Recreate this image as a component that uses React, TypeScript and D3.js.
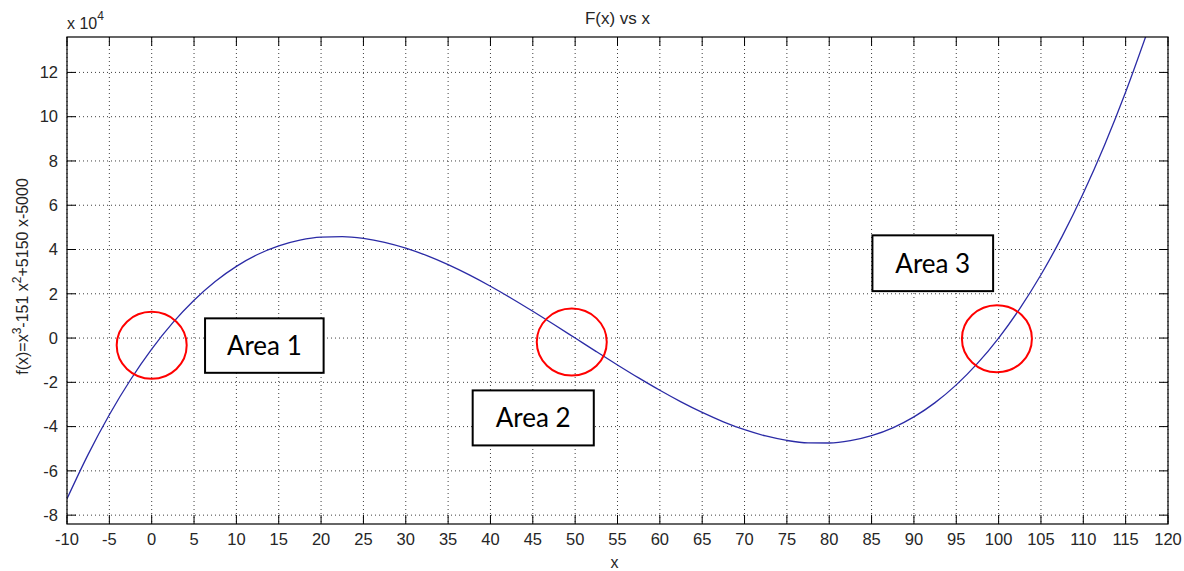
import React from "react";
import * as d3 from "d3";

const xValues = [-10, -7.5, -5, -2.5, 0, 2.5, 5, 7.5, 10, 12.5, 15, 17.5, 20, 22.5, 25, 27.5, 30, 32.5, 35, 37.5, 40, 42.5, 45, 47.5, 50, 52.5, 55, 57.5, 60, 62.5, 65, 67.5, 70, 72.5, 75, 77.5, 80, 82.5, 85, 87.5, 90, 92.5, 95, 97.5, 100, 102.5, 105, 107.5, 110, 112.5, 115, 117.5];
const fValues = [-72600, -52541, -34650, -18834, -5000, 6947, 17100, 25553, 32400, 37734, 41650, 44241, 45600, 45822, 45000, 43228, 40600, 37209, 33150, 28516, 23400, 17897, 12100, 6103, 0, -6116, -12150, -18009, -23600, -28828, -33600, -37822, -41400, -44241, -46250, -47334, -47400, -46353, -44100, -40547, -35600, -29166, -21150, -11459, 0, 13322, 28600, 45928, 65400, 87109, 111150, 137616];

const xTicks = [-10, -5, 0, 5, 10, 15, 20, 25, 30, 35, 40, 45, 50, 55, 60, 65, 70, 75, 80, 85, 90, 95, 100, 105, 110, 115, 120];
const yTicks = [-80000, -60000, -40000, -20000, 0, 20000, 40000, 60000, 80000, 100000, 120000];
const xDomain = [-10, 120];
const yDomain = [-84000, 136000];

const circleX = [0, 49.6, 99.8];
const circleY = [-3300, -1800, -300];
const areaLabels = ["Area 1", "Area 2", "Area 3"];
const areaX0 = [6.3, 37.9, 85.1];
const areaX1 = [20.3, 52.2, 99.35];
const areaYTop = [8900, -23650, 46400];
const areaYBottom = [-15700, -48500, 21200];

const title = "F(x) vs x";
const xLabel = "x";

export default function App() {
  const W = 1184, H = 571;
  const L = 67, R = 1168, T = 37, B = 524;
  const x = d3.scaleLinear().domain(xDomain).range([L, R]);
  const y = d3.scaleLinear().domain(yDomain).range([B, T]);
  const pts = xValues.map((v, i) => [v, fValues[i]] as [number, number]);
  const line = d3.line<[number, number]>().x(d => x(d[0])).y(d => y(d[1])).curve(d3.curveMonotoneX);
  const txt = "#262626";
  const font = "'Liberation Sans', Arial, sans-serif";
  const tick = 9;
  return (
    <svg width={W} height={H} style={{ position: "absolute", left: 0, top: 0, background: "#fff" }} fontFamily={font}>
      <defs>
        <clipPath id="plotclip"><rect x={L} y={T} width={R - L} height={B - T} /></clipPath>
      </defs>
      <rect x={0} y={0} width={W} height={H} fill="#fff" />
      {/* grid */}
      {xTicks.map(t => (
        <line key={"gx" + t} x1={x(t)} x2={x(t)} y1={T} y2={B} stroke="#000" strokeWidth={1} strokeDasharray="1,3" opacity={0.75} />
      ))}
      {yTicks.map(t => (
        <line key={"gy" + t} x1={L} x2={R} y1={y(t)} y2={y(t)} stroke="#000" strokeWidth={1} strokeDasharray="1,3" opacity={0.75} />
      ))}
      {/* ticks */}
      {xTicks.map(t => (
        <g key={"tx" + t}>
          <line x1={x(t)} x2={x(t)} y1={B} y2={B - tick} stroke="#000" />
          <line x1={x(t)} x2={x(t)} y1={T} y2={T + tick} stroke="#000" />
          <text x={x(t)} y={545} textAnchor="middle" fontSize={16.5} fill={txt}>{t}</text>
        </g>
      ))}
      {yTicks.map(t => (
        <g key={"ty" + t}>
          <line x1={L} x2={L + tick} y1={y(t)} y2={y(t)} stroke="#000" />
          <line x1={R} x2={R - tick} y1={y(t)} y2={y(t)} stroke="#000" />
          <text x={L - 9} y={y(t)} dy="0.35em" textAnchor="end" fontSize={16.5} fill={txt}>{t / 10000}</text>
        </g>
      ))}
      {/* curve */}
      <path d={line(pts) || ""} fill="none" stroke="#2b2ba6" strokeWidth={1.3} clipPath="url(#plotclip)" />
      {/* box */}
      <rect x={L} y={T} width={R - L} height={B - T} fill="none" stroke="#000" strokeWidth={1.2} />
      {/* exponent */}
      <text x={L} y={29} fontSize={16} fill={txt}>x 10<tspan dy={-9} fontSize={12}>4</tspan></text>
      {/* title */}
      <text x={(L + R) / 2} y={24} textAnchor="middle" fontSize={17} fill={txt}>{title}</text>
      {/* x label */}
      <text x={(L + R) / 2 - 3} y={568} textAnchor="middle" fontSize={16} fill={txt}>{xLabel}</text>
      {/* y label */}
      <text transform={`translate(28,${(T + B) / 2 - 4}) rotate(-90)`} textAnchor="middle" fontSize={16} fill={txt}>
        f(x)=x<tspan dy={-7} fontSize={12}>3</tspan><tspan dy={7}>-151 x</tspan><tspan dy={-7} fontSize={12}>2</tspan><tspan dy={7}>+5150 x-5000</tspan>
      </text>
      {/* annotations */}
      {circleX.map((cx, i) => (
        <ellipse key={"c" + i} cx={x(cx)} cy={y(circleY[i])} rx={35} ry={33.5} fill="none" stroke="#ff0000" strokeWidth={2} />
      ))}
      {areaLabels.map((lab, i) => (
        <g key={"a" + i}>
          <rect x={x(areaX0[i])} y={y(areaYTop[i])} width={x(areaX1[i]) - x(areaX0[i])} height={y(areaYBottom[i]) - y(areaYTop[i])} fill="#fff" stroke="#000" strokeWidth={2} />
          <text x={(x(areaX0[i]) + x(areaX1[i])) / 2} y={(y(areaYTop[i]) + y(areaYBottom[i])) / 2} dy="0.36em" textAnchor="middle" fontSize={26} fontFamily="Lato, 'Open Sans', sans-serif" fill="#000">{lab}</text>
        </g>
      ))}
    </svg>
  );
}
